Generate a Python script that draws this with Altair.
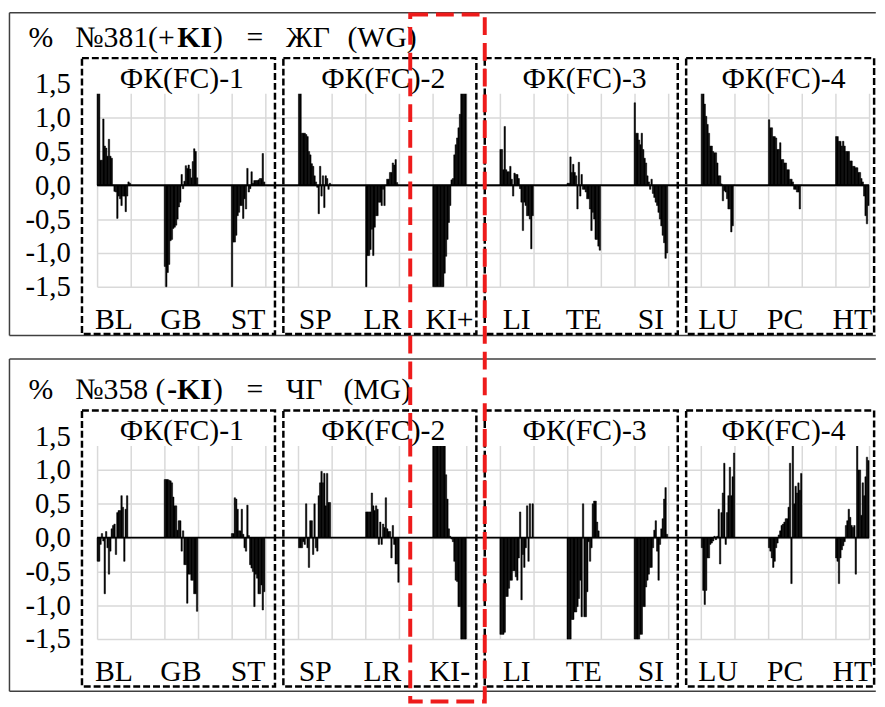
import altair as alt
import pandas as pd

# ---------------- data ----------------
GROUPS = ["BL", "GB", "ST", "SP", "LR", "KI", "LI", "TE", "SI", "LU", "PC", "HT"]
LABELS_381 = ["BL", "GB", "ST", "SP", "LR", "KI+", "LI", "TE", "SI", "LU", "PC", "HT"]
LABELS_358 = ["BL", "GB", "ST", "SP", "LR", "KI-", "LI", "TE", "SI", "LU", "PC", "HT"]
FC_LABELS = ["ФК(FC)-1", "ФК(FC)-2", "ФК(FC)-3", "ФК(FC)-4"]
Y_TICKS = [-1.5, -1.0, -0.5, 0.0, 0.5, 1.0, 1.5]

TITLE_381 = ["%", "№381(+", "KI", ")", "=", "ЖГ", "(WG)"]
TITLE_358 = ["%", "№358 (", "-KI", ")", "=", "ЧГ", "(MG)"]
TITLE_BOLD = [False, False, True, False, False, False, False]

# №381 (+KI) = ЖГ (WG)
WG_BL = [1.4, 1.4, 0.37, 0.37, 0.98, 0.58, 0.55, 0.43, 0.68, 0.43, 0.4, 0.0,
         -0.09, -0.1, -0.49, -0.16, -0.2, -0.3, -0.16, -0.16, -0.39, -0.16, 0.05, 0.03]
WG_GB = [-1.2, -1.5, -1.29, -1.17, -0.82, -0.8, -0.64, -0.62, -0.59, -0.5, -0.32, -0.25,
         0.16, -0.05, 0.06, 0.29, 0.25, 0.3, 0.24, 0.11, 0.35, 0.54, 0.5, 0.11]
WG_ST = [-1.5, -0.84, -0.84, -0.74, -0.45, -0.4, -0.3, -0.3, -0.49, -0.2, -0.35, 0.25,
         -0.1, -0.05, 0.2, 0.03, 0.07, 0.07, 0.07, 0.08, 0.1, 0.1, 0.47, 0.05]
WG_SP = [1.4, 1.4, 0.77, 0.77, 0.77, 0.75, 0.72, 0.5, 0.45, 0.32, 0.28, 0.14,
         0.05, -0.03, -0.42, 0.28, -0.16, 0.14, -0.33, 0.14, 0.1, -0.06, 0.03, 0.0]
WG_LR = [-1.5, -1.04, -1.04, -0.95, -0.65, -1.04, -0.62, -0.45, -0.45, -0.25, -0.25, -0.3,
         -0.06, -0.3, 0.0, 0.09, 0.09, 0.19, 0.19, 0.33, 0.3, 0.38, 0.04, 0.0]
WG_KI = [-1.5, -1.5, -1.5, -1.5, -1.5, -1.5, -1.5, -1.5, -1.3, -1.05, -0.8, -0.55,
         -0.3, 0.08, 0.1, 0.45, 0.6, 0.7, 0.85, 1.05, 1.4, 1.4, 1.4, 1.4]
WG_LI = [0.53, 0.53, 0.23, 0.87, 0.23, 0.2, 0.2, 0.28, 0.09, -0.16, 0.18, 0.16,
         0.16, 0.1, -0.05, -0.25, -0.67, -0.25, -0.3, -0.45, -0.45, -0.5, -0.94, -0.45]
WG_TE = [0.03, 0.03, 0.42, 0.19, 0.31, 0.19, 0.14, -0.35, 0.34, -0.16, 0.16, -0.06,
         -0.06, -0.1, -0.2, -0.2, -0.35, -0.67, -0.4, -0.5, -0.8, -0.8, -0.9, -0.96]
WG_SI = [1.22, 0.77, 0.77, 0.67, 0.6, 0.77, 0.53, 0.4, 0.33, 0.14, 0.05, -0.06,
         0.09, -0.12, -0.18, -0.25, -0.3, -0.4, -0.5, -0.6, -0.74, -0.85, -1.08, -1.0]
WG_LU = [1.4, 1.4, 1.2, 1.02, 0.9, 0.77, 0.58, 0.58, 0.5, 0.48, 0.48, 0.33,
         0.14, 0.14, 0.02, -0.23, -0.08, -0.1, -0.2, -0.35, -0.35, -0.69, -0.6, 0.0]
WG_PC = [0.97, 0.85, 0.85, 0.72, 0.72, 0.7, 0.53, 0.53, 0.63, 0.38, 0.38, 0.33,
         0.33, 0.23, 0.23, 0.09, 0.09, 0.05, -0.06, -0.06, -0.1, -0.1, -0.35, 0.0]
WG_HT = [0.72, 0.72, 0.65, 0.65, 0.58, 0.65, 0.58, 0.5, 0.5, 0.5, 0.36, 0.36,
         0.28, 0.28, 0.26, 0.26, 0.19, 0.19, 0.1, 0.05, -0.16, -0.45, -0.57, -0.3]

# №358 (-KI) = ЧГ (MG)
MG_BL = [-0.35, -0.35, -0.1, 0.06, -0.05, -0.83, 0.09, -0.15, -0.54, -0.2, 0.13, 0.18,
         0.2, -0.25, 0.37, 0.4, 0.4, 0.62, 0.45, -0.35, 0.42, 0.62, 0.0, 0.0]
MG_GB = [0.86, 0.86, 0.86, 0.85, 0.84, 0.81, 0.6, 0.47, 0.47, 0.11, 0.25, 0.25,
         -0.2, 0.1, -0.4, -0.4, -0.97, -0.54, -0.54, -0.63, -0.63, -0.83, -0.83, -1.09]
MG_ST = [0.06, 0.06, 0.59, 0.57, 0.42, 0.1, 0.1, 0.42, 0.05, -0.15, -0.2, 0.48,
         0.03, -0.4, -0.45, -0.5, -1.02, -0.54, -0.6, -0.83, -0.83, -0.7, -1.07, -0.8]
MG_SP = [-0.15, -0.15, -0.15, -0.06, -0.1, 0.5, -0.15, -0.44, 0.25, 0.25, -0.25, 0.5,
         -0.15, -0.2, 0.62, 0.81, 0.98, 0.81, 0.95, 0.47, 0.95, 0.52, 0.52, 0.0]
MG_LR = [0.38, 0.38, 0.38, 0.38, 0.66, 0.47, 0.4, 0.47, 0.42, -0.1, 0.23, -0.1,
         0.2, 0.15, 0.59, 0.13, 0.09, 0.09, -0.3, 0.18, -0.1, -0.39, -0.39, -0.66]
MG_KI = [1.4, 1.4, 1.4, 1.4, 1.4, 1.4, 1.4, 1.4, 1.4, 0.93, 0.57, 0.13,
         0.02, -0.02, -0.06, -0.35, -0.63, -0.65, -1.02, -1.02, -1.5, -1.5, -1.5, -1.5]
MG_LI = [-1.43, -1.43, -1.43, -1.4, -0.87, -0.87, -0.75, -0.63, -0.63, -0.49, -0.49, -0.58,
         -0.63, -0.3, 0.38, -0.92, -0.25, -0.44, -0.15, 0.47, -0.35, 0.5, 0.0, 0.5]
MG_TE = [-1.5, -1.5, -1.5, -1.21, -1.21, -1.1, -1.1, -1.02, -0.9, -0.63, -1.17, 0.5,
         -1.17, -1.17, -0.8, -0.06, -0.35, -0.15, 0.5, 0.54, 0.54, 0.23, 0.1, 0.0]
MG_SI = [-1.5, -1.5, -1.5, -1.5, -1.43, -1.43, -1.02, -1.02, -0.73, -0.63, -0.54, -0.44,
         -0.44, -0.15, 0.11, 0.25, -0.2, -0.63, -0.1, 0.13, 0.28, 0.57, 0.74, 0.05]
MG_LU = [-0.15, -0.78, -0.99, -0.78, -0.3, -0.3, -0.1, -0.08, -0.05, 0.02, -0.03, 0.02,
         0.42, -0.39, 0.37, 0.66, 1.1, -0.1, 0.37, 0.62, 1.04, 0.62, 0.9, 1.25]
MG_PC = [-0.15, -0.2, -0.3, -0.44, -0.35, -0.15, -0.08, 0.04, 0.1, 0.18, 0.2, 0.23,
         0.28, 0.28, 0.45, 1.1, -0.68, 1.4, 0.5, 0.76, 0.66, 0.81, 0.7, 0.95]
MG_HT = [-0.3, -0.35, -0.68, -0.3, -0.18, -0.12, -0.06, 0.18, 0.25, 0.42, 0.3, 0.18,
         0.15, 0.18, -0.54, 1.4, 1.0, 1.0, 0.33, 0.81, 0.62, 0.9, 1.19, 1.14]

SERIES_381 = [WG_BL, WG_GB, WG_ST, WG_SP, WG_LR, WG_KI, WG_LI, WG_TE, WG_SI, WG_LU, WG_PC, WG_HT]
SERIES_358 = [MG_BL, MG_GB, MG_ST, MG_SP, MG_LR, MG_KI, MG_LI, MG_TE, MG_SI, MG_LU, MG_PC, MG_HT]

# ---------------- layout / style ----------------
SERIF = "Liberation Serif"
GRID = "#d9d9d9"
RED = "#ee1b1b"
FRAME = "#404040"
N_CELLS = 23
W = 780
H = 205

TITLE_POS_381 = [-2.04, -0.65, 2.39, 3.45, 4.45, 5.63, 7.46]
TITLE_POS_358 = [-2.04, -0.65, 2.09, 3.45, 4.45, 5.63, 7.34]

XS = alt.Scale(domain=[0, N_CELLS], nice=False, zero=False)
YS = alt.Scale(domain=[-1.5, 1.5], nice=False, zero=False)

LABEL_EXPR = "replace(replace(format(datum.value, '.1f'), '.', ','), '\u2212', '-')"

XAXIS = alt.Axis(values=list(range(N_CELLS + 1)), grid=True, labels=False, ticks=False,
                 domain=False, title=None, gridColor=GRID, gridWidth=1.5)
YAXIS = alt.Axis(values=Y_TICKS, grid=True, ticks=False, domain=False, title=None,
                 gridColor=GRID, gridWidth=1.5, labelExpr=LABEL_EXPR, labelFont=SERIF,
                 labelFontSize=29, labelColor="black", labelPadding=27)


def qx(f):
    return alt.X(f, type="quantitative", scale=XS, axis=XAXIS)


def qy(f):
    return alt.Y(f, type="quantitative", scale=YS, axis=YAXIS)


def bars_frame(series):
    rows = []
    for g, vals in enumerate(series):
        n = len(vals)
        for i, v in enumerate(vals):
            rows.append({"x0": 2 * g + i / n, "x1": 2 * g + (i + 1) / n, "v": v, "base": 0.0})
    return pd.DataFrame(rows)


def box_frame():
    rows = []
    for k, lab in enumerate(FC_LABELS):
        left = 6 * k - 0.45
        right = min(6 * k + 5.3, N_CELLS + 0.15)
        rows.append({"x0": left, "x1": right, "y0": -2.2, "y1": 1.88,
                     "xc": (left + right) / 2 + 0.1, "yc": 1.57, "t": lab})
    return pd.DataFrame(rows)


def panel(series, xlabels, tokens, token_pos, frame_top, frame_bottom, overlay=False):
    bars = alt.Chart(bars_frame(series)).mark_rect(
        color="black", stroke="black", strokeWidth=0.5).encode(
        x=qx("x0"), x2="x1:Q", y=qy("v"), y2="base:Q")

    zero = alt.Chart(pd.DataFrame({"x0": [0.0], "x1": [float(N_CELLS)], "y": [0.0]})).mark_rule(
        color="black", strokeWidth=2).encode(x=qx("x0"), x2="x1:Q", y=qy("y"))

    cover = alt.Chart(pd.DataFrame({"x0": [-0.06], "x1": [N_CELLS + 0.06],
                                    "y0": [1.355], "y1": [1.53]})).mark_rect(color="white").encode(
        x=qx("x0"), x2="x1:Q", y=qy("y0"), y2="y1:Q")

    bdf = box_frame()
    boxes = alt.Chart(bdf).mark_rect(fill="transparent", stroke="black", strokeWidth=2.5,
                                     strokeDash=[7, 3]).encode(
        x=qx("x0"), x2="x1:Q", y=qy("y0"), y2="y1:Q")
    box_text = alt.Chart(bdf).mark_text(font=SERIF, fontSize=30, color="black",
                                        baseline="middle").encode(
        x=qx("xc"), y=qy("yc"), text="t:N")

    xl = pd.DataFrame({"x": [2 * g + 0.5 for g in range(len(xlabels))],
                       "y": [-1.99] * len(xlabels), "t": xlabels})
    xlab = alt.Chart(xl).mark_text(font=SERIF, fontSize=30, color="black",
                                   baseline="middle").encode(
        x=qx("x"), y=qy("y"), text="t:N")

    tdf = pd.DataFrame({"x": token_pos, "y": [2.18] * len(tokens), "t": tokens, "b": TITLE_BOLD})
    t_norm = alt.Chart(tdf[~tdf["b"]]).mark_text(font=SERIF, fontSize=30, color="black",
                                                align="left", baseline="middle").encode(
        x=qx("x"), y=qy("y"), text="t:N")
    t_bold = alt.Chart(tdf[tdf["b"]]).mark_text(font=SERIF, fontSize=30, fontWeight="bold",
                                               color="black", align="left",
                                               baseline="middle").encode(
        x=qx("x"), y=qy("y"), text="t:N")

    fl, fr = -2.61, N_CELLS + 0.2
    fdf = pd.DataFrame({"x0": [fl, fl, fl], "x1": [fr, fl, fr],
                        "y0": [frame_top, frame_top, frame_bottom],
                        "y1": [frame_top, frame_bottom, frame_bottom]})
    frame = alt.Chart(fdf).mark_rule(color=FRAME, strokeWidth=1.5).encode(
        x=qx("x0"), x2="x1:Q", y=qy("y0"), y2="y1:Q")

    layers = [bars, zero, cover, frame, boxes, box_text, xlab, t_norm, t_bold]
    if overlay:
        red = alt.Chart(pd.DataFrame({"x0": [9.33], "x1": [11.55]})).mark_rect(
            fill="transparent", stroke=RED, strokeWidth=4, strokeDash=[18, 8]).encode(
            x=qx("x0"), x2="x1:Q", y=alt.value(-426), y2=alt.value(268))
        layers.append(red)
    return alt.layer(*layers).properties(width=W, height=H)


top = panel(SERIES_381, LABELS_381, TITLE_381, TITLE_POS_381, 2.55, -2.22)
bottom = panel(SERIES_358, LABELS_358, TITLE_358, TITLE_POS_358, 2.64, -2.27, overlay=True)

chart = alt.vconcat(top, bottom, spacing=151, bounds="flush").properties(
    padding=0, background="white").configure_view(stroke=None)

chart.save("out.html", embed_options={"renderer": "svg", "actions": False})
